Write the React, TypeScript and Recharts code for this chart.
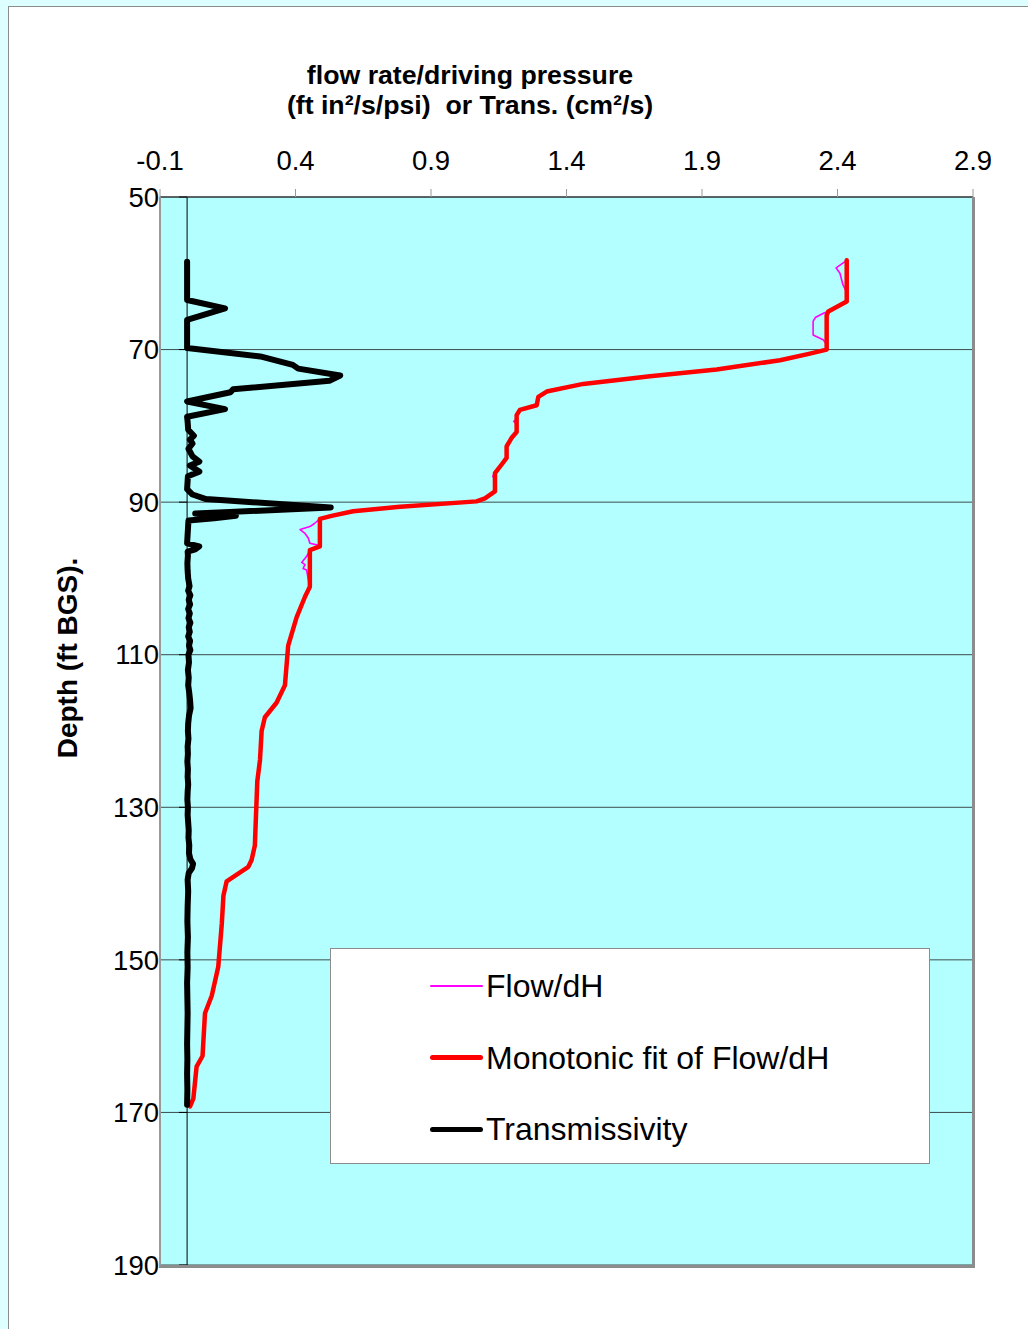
import React from 'react';
import { ScatterChart, Scatter, XAxis, YAxis, CartesianGrid, ReferenceLine } from 'recharts';

const xTicks = [-0.1, 0.4, 0.9, 1.4, 1.9, 2.4, 2.9];
const depthTicks = [50, 70, 90, 110, 130, 150, 170, 190];

const titleLine1 = 'flow rate/driving pressure';
const titleLine2 = '(ft in\u00B2/s/psi)  or Trans. (cm\u00B2/s)';
const yTitle = 'Depth (ft BGS).';

const seriesNames = ['Flow/dH', 'Monotonic fit of Flow/dH', 'Transmissivity'];

// [depth, value]
const flowDH: [number, number][] = [
  [58.3, 2.434], [59.3, 2.395], [60.0, 2.409], [61.5, 2.42], [62.5, 2.434], [63.7, 2.434],
  [65.0, 2.366], [65.2, 2.35], [65.8, 2.318], [66.3, 2.31], [68.1, 2.31], [68.7, 2.347],
  [69.3, 2.36], [70.0, 2.36], [70.6, 2.29], [71.4, 2.188], [72.6, 1.954], [73.5, 1.708],
  [74.5, 1.462], [75.5, 1.327], [76.2, 1.296], [77.3, 1.29], [77.9, 1.228], [78.6, 1.216],
  [79.1, 1.216], [79.4, 1.205], [79.8, 1.216], [80.8, 1.216], [81.6, 1.197], [82.7, 1.179],
  [84.2, 1.179], [85.1, 1.16], [86.2, 1.136], [86.6, 1.128], [87.0, 1.136], [88.6, 1.136],
  [89.5, 1.099], [89.9, 1.068], [90.6, 0.786], [91.2, 0.613], [91.8, 0.533], [92.2, 0.49],
  [92.8, 0.47], [93.2, 0.453], [93.6, 0.417], [94.1, 0.435], [94.7, 0.447], [95.4, 0.453],
  [95.7, 0.49], [96.3, 0.453], [97.1, 0.441], [97.9, 0.423], [98.2, 0.435], [98.7, 0.428],
  [98.9, 0.441], [100.1, 0.447], [101.1, 0.453], [102.4, 0.435], [105.1, 0.404], [108.8, 0.373],
  [114.0, 0.361], [116.3, 0.33], [118.2, 0.287], [120.0, 0.275], [123.8, 0.269], [126.6, 0.259],
  [135.0, 0.25], [136.9, 0.238], [137.8, 0.226], [139.7, 0.146], [141.6, 0.134], [145.3, 0.128],
  [150.9, 0.115], [154.7, 0.091], [157.0, 0.066], [162.6, 0.057], [164.0, 0.035], [168.2, 0.023],
  [169.2, 0.011],
];

const monotonicFit: [number, number][] = [
  [58.3, 2.434], [63.7, 2.434], [65.0, 2.366], [65.5, 2.36], [70.0, 2.36], [70.6, 2.29],
  [71.4, 2.188], [72.6, 1.954], [73.5, 1.708], [74.5, 1.462], [75.5, 1.327], [76.2, 1.296],
  [77.3, 1.29], [77.9, 1.228], [78.6, 1.216], [80.8, 1.216], [81.6, 1.197], [82.7, 1.179],
  [84.2, 1.179], [85.1, 1.16], [86.2, 1.136], [88.6, 1.136], [89.5, 1.099], [89.9, 1.068],
  [90.6, 0.786], [91.2, 0.613], [91.8, 0.533], [92.2, 0.49], [95.8, 0.49], [96.3, 0.453],
  [101.1, 0.453], [102.4, 0.435], [105.1, 0.404], [108.8, 0.373], [114.0, 0.361], [116.3, 0.33],
  [118.2, 0.287], [120.0, 0.275], [123.8, 0.269], [126.6, 0.259], [135.0, 0.25], [136.9, 0.238],
  [137.8, 0.226], [139.7, 0.146], [141.6, 0.134], [145.3, 0.128], [150.9, 0.115], [154.7, 0.091],
  [157.0, 0.066], [162.6, 0.057], [164.0, 0.035], [168.2, 0.023], [169.2, 0.011],
];

const transmissivity: [number, number][] = [
  [58.5, 0], [63.5, 0], [64.6, 0.14], [66.1, 0], [69.8, 0], [70.9, 0.27], [72.0, 0.39],
  [72.5, 0.41], [73.4, 0.565], [74.1, 0.525], [75.2, 0.17], [75.6, 0.16], [76.8, 0],
  [77.8, 0.14], [78.8, 0], [79.5, 0.002], [80.5, 0.004], [81.3, 0.025], [81.8, 0.01],
  [82.3, 0.02], [83.0, 0.005], [84.0, 0.02], [84.7, 0.045], [85.2, 0.01], [86.0, 0.045],
  [86.6, 0.003], [88.3, 0], [89.0, 0.02], [89.6, 0.07], [90.7, 0.53], [91.5, 0.03],
  [91.8, 0.18], [92.1, 0.1], [92.4, 0.005], [95.4, 0], [95.8, 0.045], [96.2, 0.03],
  [96.5, 0.002], [97, 0.003], [98, 0.001], [99, 0.002], [100, 0.004], [101, 0.009],
  [101.6, 0.004], [102.2, 0.012], [102.8, 0.006], [103.4, 0.011], [104, 0.004], [104.6, 0.01],
  [105.2, 0.005], [105.8, 0.012], [106.4, 0.006], [107, 0.01], [107.6, 0.004], [108.2, 0.011],
  [108.8, 0.007], [109.4, 0.012], [110, 0.005], [111, 0.007], [112, 0.003], [113, 0.006],
  [114, 0.004], [115, 0.008], [116, 0.011], [117, 0.013], [118, 0.007], [119, 0.004],
  [120, 0.003], [121, 0.005], [122, 0.002], [123, 0.003], [124, 0.001], [125, 0.003],
  [126, 0.002], [127, 0.004], [128, 0.002], [129, 0.001], [130, 0.003], [131, 0.002],
  [132, 0.004], [133, 0.006], [134, 0.005], [135, 0.008], [136, 0.007], [136.8, 0.012],
  [137.4, 0.022], [138.0, 0.018], [138.6, 0.006], [139.5, 0.002], [141, 0.004], [143, 0.002],
  [145, 0.001], [147, 0.003], [149, 0.001], [151, 0.002], [153, 0], [155, 0.001], [157, 0.002],
  [159, 0.001], [161, 0], [163, 0.001], [165, 0], [167, 0.001], [169, 0],
];

const toPoints = (arr: [number, number][]) => arr.map(([depth, v]) => ({ depth, v }));

const FONT = '"Liberation Sans", Arial, sans-serif';
const noShape = () => null;

const legendItems = [
  { name: seriesNames[0], color: '#ff00ff', width: 2 },
  { name: seriesNames[1], color: '#ff0000', width: 5 },
  { name: seriesNames[2], color: '#000000', width: 5 },
];

export default function App() {
  return (
    <div
      style={{
        position: 'absolute', left: 0, top: 0, width: 1028, height: 1329,
        background: '#ddffff', overflow: 'hidden', fontFamily: FONT,
      }}
    >
      <div
        style={{
          position: 'absolute', left: 8, top: 6, width: 1040, height: 1340,
          background: '#ffffff', border: '1px solid #8c8c8c',
        }}
      />
      <div style={{ position: 'absolute', left: 0, top: 0 }}>
        <ScatterChart
          width={1028}
          height={1329}
          margin={{ top: 196, right: 55, bottom: 64, left: 159 }}
        >
          <CartesianGrid vertical={false} stroke="#3d4b4b" fill="#b3ffff" fillOpacity={1} />
          <XAxis
            type="number"
            dataKey="v"
            orientation="top"
            domain={[-0.1, 2.9]}
            ticks={xTicks}
            height={1}
            tickSize={8}
            tickMargin={19}
            tickLine={{ stroke: '#999999' }}
            axisLine={{ stroke: '#222222' }}
            tick={{ fontSize: 27.5, fill: '#000', fontFamily: FONT }}
            interval={0}
            allowDataOverflow
          />
          <YAxis
            type="number"
            dataKey="depth"
            domain={[50, 190]}
            ticks={depthTicks}
            reversed
            width={1}
            tickSize={0}
            tickMargin={1}
            tickLine={false}
            axisLine={false}
            tick={{ fontSize: 27.5, fill: '#000', fontFamily: FONT }}
            interval={0}
            allowDataOverflow
          />
          <ReferenceLine x={0} stroke="#000" strokeWidth={1} />
          {depthTicks.map((t) => (
            <ReferenceLine
              key={'tk' + t}
              segment={[{ x: -0.03, y: t }, { x: 0, y: t }]}
              stroke="#000"
              strokeWidth={1}
            />
          ))}
          <Scatter
            name={seriesNames[0]}
            data={toPoints(flowDH)}
            line={{ stroke: '#ff00ff', strokeWidth: 1.6, strokeLinejoin: 'round' }}
            lineType="joint"
            shape={noShape}
            isAnimationActive={false}
          />
          <Scatter
            name={seriesNames[1]}
            data={toPoints(monotonicFit)}
            line={{ stroke: '#ff0000', strokeWidth: 4.5, strokeLinejoin: 'round', strokeLinecap: 'round' }}
            lineType="joint"
            shape={noShape}
            isAnimationActive={false}
          />
          <Scatter
            name={seriesNames[2]}
            data={toPoints(transmissivity)}
            line={{ stroke: '#000000', strokeWidth: 6, strokeLinejoin: 'round', strokeLinecap: 'round' }}
            lineType="joint"
            shape={noShape}
            isAnimationActive={false}
          />
        </ScatterChart>
      </div>
      {/* plot border */}
      <div
        style={{
          position: 'absolute', left: 159, top: 197, width: 816, height: 1071, boxSizing: 'border-box',
          borderLeft: '2px solid #999', borderRight: '3px solid #8c8c8c', borderBottom: '3px solid #8c8c8c',
          pointerEvents: 'none',
        }}
      />
      {/* titles */}
      <div
        style={{
          position: 'absolute', left: 170, top: 60, width: 600, textAlign: 'center',
          fontWeight: 'bold', fontSize: 26.7, lineHeight: '30px', whiteSpace: 'pre', color: '#000',
        }}
      >
        <div>{titleLine1}</div>
        <div>{titleLine2}</div>
      </div>
      <div
        style={{
          position: 'absolute', left: 68 - 200, top: 658 - 15, width: 400, height: 30,
          textAlign: 'center', fontWeight: 'bold', fontSize: 28, lineHeight: '30px',
          transform: 'rotate(-90deg)', transformOrigin: '50% 50%', color: '#000',
        }}
      >
        {yTitle}
      </div>
      {/* legend */}
      <div
        style={{
          position: 'absolute', left: 330, top: 948, width: 600, height: 216, boxSizing: 'border-box',
          background: '#fff', border: '1px solid #8c8c8c',
        }}
      >
        {legendItems.map((it, i) => (
          <div
            key={it.name}
            style={{
              position: 'absolute', left: 0, top: 37 + i * 71.5 - 20, height: 40, width: 590,
            }}
          >
            <div
              style={{
                position: 'absolute', left: 99, top: 20 - it.width / 2, width: 53, height: it.width,
                background: it.color, borderRadius: it.width / 2,
              }}
            />
            <div
              style={{
                position: 'absolute', left: 155, top: 0, lineHeight: '40px', fontSize: 32,
                color: '#000', whiteSpace: 'pre',
              }}
            >
              {it.name}
            </div>
          </div>
        ))}
      </div>
    </div>
  );
}
